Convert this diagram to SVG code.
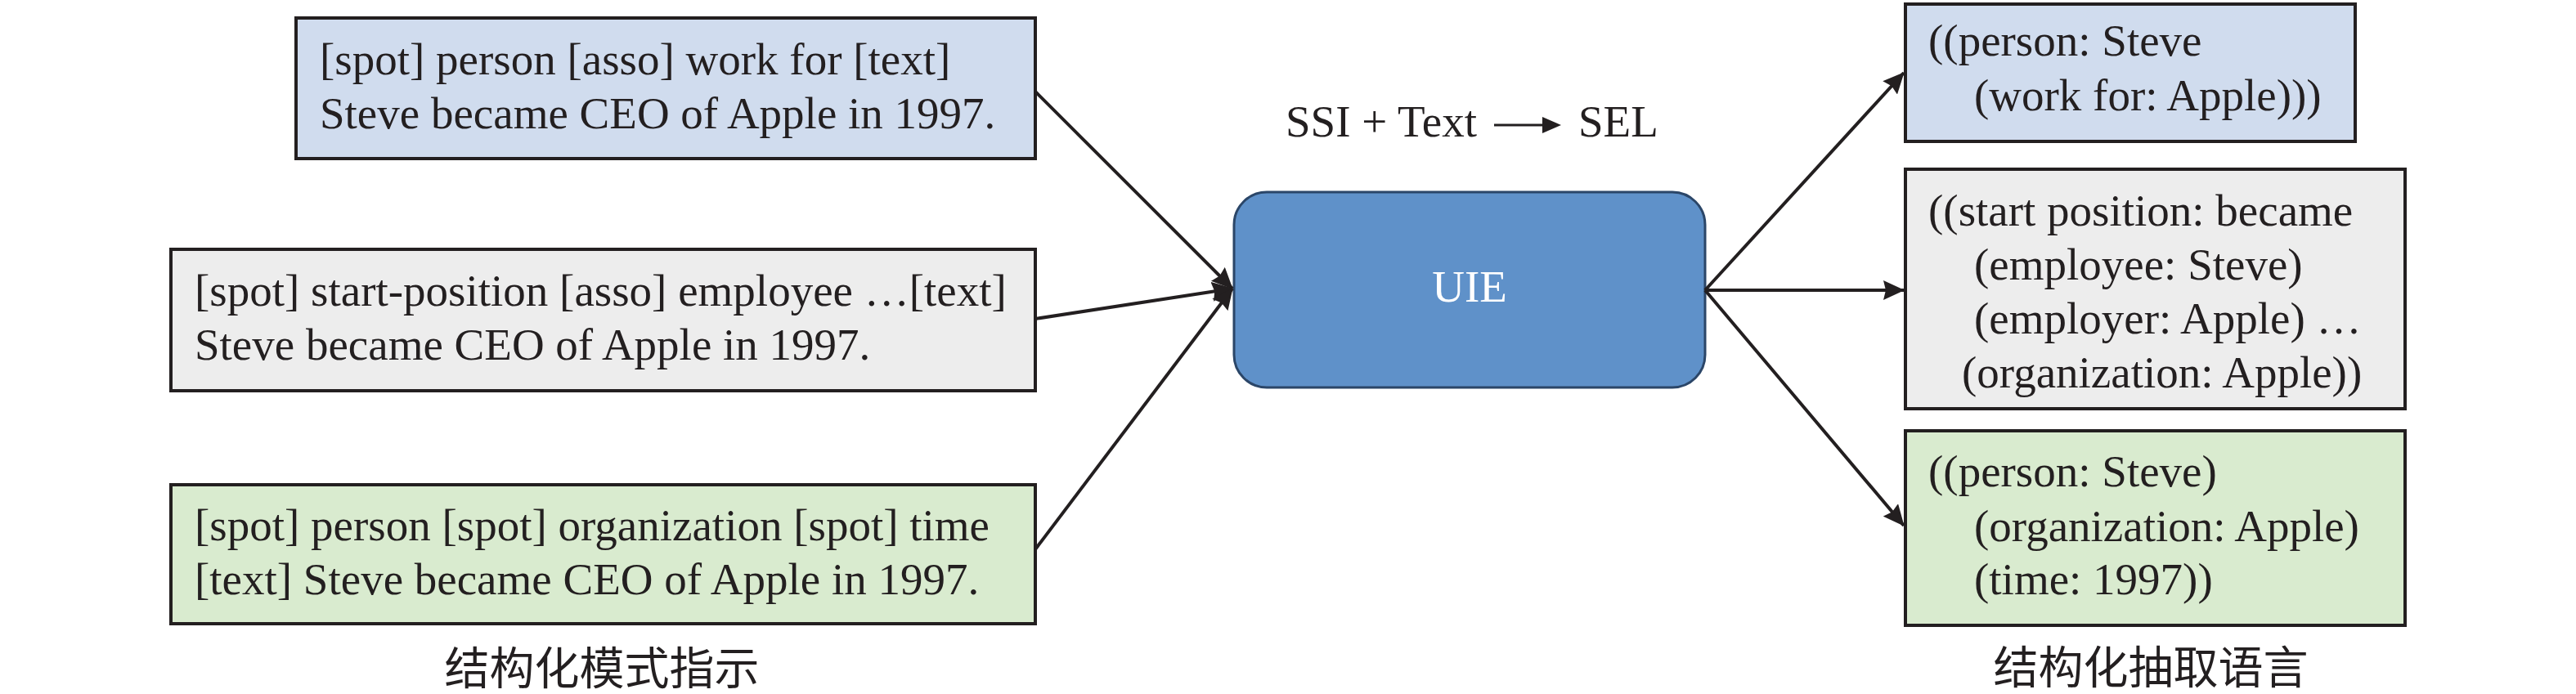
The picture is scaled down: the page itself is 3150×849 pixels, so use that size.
<svg xmlns="http://www.w3.org/2000/svg" width="3150" height="849" viewBox="0 0 3150 849">
  <style>
    .box { stroke: #231f20; stroke-width: 4; }
    .blue { fill: #d0dcee; }
    .gray { fill: #ededed; }
    .green { fill: #d9ebcf; }
    .t { font-family: "Liberation Serif", "Times New Roman", serif; font-size: 55px; fill: #231f20; }
    .cap { font-family: "Noto Sans CJK SC", sans-serif; font-size: 55px; fill: #231f20; text-anchor: middle; }
    .conn { stroke: #231f20; stroke-width: 4; fill: none; }
  </style>
  <defs>
    <marker id="arr" markerUnits="userSpaceOnUse" markerWidth="26" markerHeight="24" viewBox="0 0 26 24" refX="25" refY="12" orient="auto">
      <path d="M0,0 L26,12 L0,24 L3,12 z" fill="#231f20"/>
    </marker>
  </defs>

  <g id="input-ssi-relation">
    <rect class="box blue" x="362" y="22" width="904" height="172"/>
    <text class="t" x="391" y="91">[spot] person [asso] work for [text]</text>
    <text class="t" x="391" y="157">Steve became CEO of Apple in 1997.</text>
  </g>

  <g id="input-ssi-event">
    <rect class="box gray" x="209" y="305" width="1057" height="173"/>
    <text class="t" x="238" y="374">[spot] start-position [asso] employee …[text]</text>
    <text class="t" x="238" y="440">Steve became CEO of Apple in 1997.</text>
  </g>

  <g id="input-ssi-entity">
    <rect class="box green" x="209" y="593" width="1057" height="170"/>
    <text class="t" x="238" y="661">[spot] person [spot] organization [spot] time</text>
    <text class="t" x="238" y="727">[text] Steve became CEO of Apple in 1997.</text>
  </g>

  <g id="caption-left">
    <text class="cap" x="736" y="837">结构化模式指示</text>
  </g>

  <g id="formula">
    <text class="t" x="1572" y="167">SSI + Text</text>
    <line x1="1827" y1="153" x2="1892" y2="153" stroke="#231f20" stroke-width="3"/>
    <path d="M1886,143 L1909,153 L1886,163 z" fill="#231f20"/>
    <text class="t" x="1930" y="167">SEL</text>
  </g>

  <g id="uie">
    <rect x="1509" y="235" width="576" height="239" rx="40" ry="40" fill="#5f91c9" stroke="#2b4668" stroke-width="3"/>
    <text class="t" x="1797" y="369" text-anchor="middle" style="fill:#ffffff">UIE</text>
  </g>

  <g id="output-relation">
    <rect class="box blue" x="2330" y="5" width="550" height="168"/>
    <text class="t" x="2358" y="68">((person: Steve</text>
    <text class="t" x="2414" y="135">(work for: Apple)))</text>
  </g>

  <g id="output-event">
    <rect class="box gray" x="2330" y="207" width="611" height="293"/>
    <text class="t" x="2358" y="276">((start position: became</text>
    <text class="t" x="2414" y="342">(employee: Steve)</text>
    <text class="t" x="2414" y="408">(employer: Apple) …</text>
    <text class="t" x="2399" y="474">(organization: Apple))</text>
  </g>

  <g id="output-entity">
    <rect class="box green" x="2330" y="527" width="611" height="238"/>
    <text class="t" x="2358" y="595">((person: Steve)</text>
    <text class="t" x="2414" y="662">(organization: Apple)</text>
    <text class="t" x="2414" y="727">(time: 1997))</text>
  </g>

  <g id="caption-right">
    <text class="cap" x="2630" y="836">结构化抽取语言</text>
  </g>

  <g id="connectors">
    <line class="conn" x1="1266" y1="112" x2="1507" y2="353" marker-end="url(#arr)"/>
    <line class="conn" x1="1266" y1="390" x2="1507" y2="353" marker-end="url(#arr)"/>
    <line class="conn" x1="1266" y1="672" x2="1507" y2="353" marker-end="url(#arr)"/>
    <line class="conn" x1="2085" y1="355" x2="2328" y2="89" marker-end="url(#arr)"/>
    <line class="conn" x1="2085" y1="355" x2="2328" y2="355" marker-end="url(#arr)"/>
    <line class="conn" x1="2085" y1="355" x2="2328" y2="643" marker-end="url(#arr)"/>
  </g>
</svg>
